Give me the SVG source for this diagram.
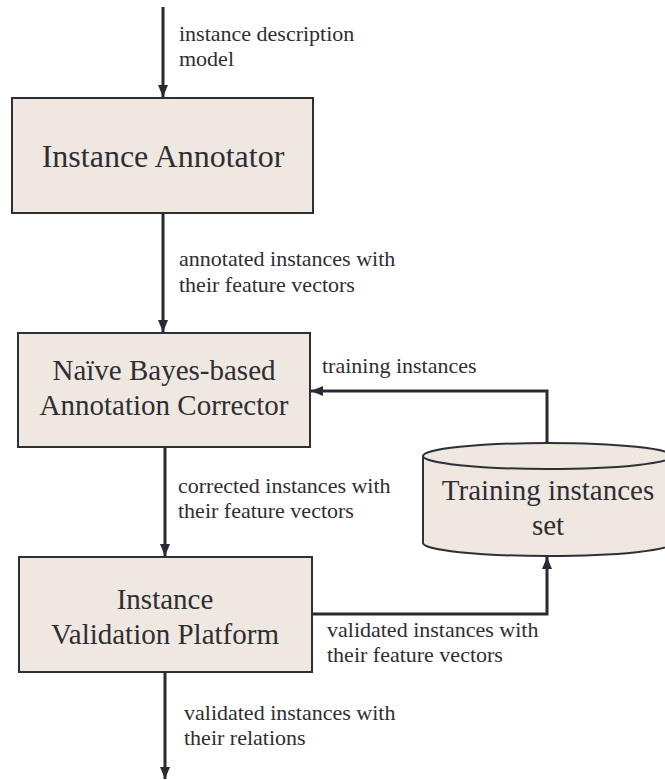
<svg xmlns="http://www.w3.org/2000/svg" width="665" height="780" viewBox="0 0 665 780">
  <style>
    text { font-family: "Liberation Serif", "Times New Roman", serif; fill: #2e2e33; }
    .box { fill: #eee8e1; stroke: #2f2f36; stroke-width: 2; }
    .title { font-size: 29px; text-anchor: middle; }
    .big { font-size: 32px; }
    .label { font-size: 22px; }
    .wire { fill: none; stroke: #2a2a35; stroke-width: 3; }
  </style>
  <defs>
    <marker id="arrow" viewBox="0 0 12 10" refX="12" refY="5" markerWidth="4" markerHeight="3.4" orient="auto" markerUnits="strokeWidth">
      <path d="M0,0 L12,5 L0,10 z" fill="#2a2a35"/>
    </marker>
  </defs>

  <g id="annotator">
    <rect class="box" x="12" y="98" width="301" height="115"/>
    <text class="title big" x="163" y="167">Instance Annotator</text>
  </g>

  <g id="corrector">
    <rect class="box" x="18" y="333" width="292" height="114"/>
    <text class="title" x="164" y="380">Naïve Bayes-based</text>
    <text class="title" x="164" y="415">Annotation Corrector</text>
  </g>

  <g id="validation">
    <rect class="box" x="19" y="557" width="293" height="115"/>
    <text class="title" x="165" y="609">Instance</text>
    <text class="title" x="165" y="644">Validation Platform</text>
  </g>

  <g id="training-set">
    <path class="box" d="M423,456 L423,543 A125,13 0 0 0 673,543 L673,456"/>
    <ellipse class="box" cx="548" cy="456" rx="125" ry="13"/>
    <text class="title" x="548" y="500">Training instances</text>
    <text class="title" x="548" y="535">set</text>
  </g>

  <g id="connectors">
    <line class="wire" x1="163" y1="7" x2="163" y2="97" marker-end="url(#arrow)"/>
    <line class="wire" x1="163" y1="213" x2="163" y2="332" marker-end="url(#arrow)"/>
    <line class="wire" x1="165" y1="447" x2="165" y2="556" marker-end="url(#arrow)"/>
    <line class="wire" x1="165" y1="672" x2="165" y2="779" marker-end="url(#arrow)"/>
    <polyline class="wire" points="547,443 547,391 311,391" marker-end="url(#arrow)"/>
    <polyline class="wire" points="312,614 547,614 547,557" marker-end="url(#arrow)"/>

    <text class="label" x="179" y="41">instance description</text>
    <text class="label" x="179" y="66">model</text>
    <text class="label" x="179" y="266">annotated instances with</text>
    <text class="label" x="179" y="292">their feature vectors</text>
    <text class="label" x="322" y="373">training instances</text>
    <text class="label" x="178" y="493">corrected instances with</text>
    <text class="label" x="178" y="518">their feature vectors</text>
    <text class="label" x="327" y="637">validated instances with</text>
    <text class="label" x="327" y="662">their feature vectors</text>
    <text class="label" x="184" y="720">validated instances with</text>
    <text class="label" x="184" y="745">their relations</text>
  </g>
</svg>
